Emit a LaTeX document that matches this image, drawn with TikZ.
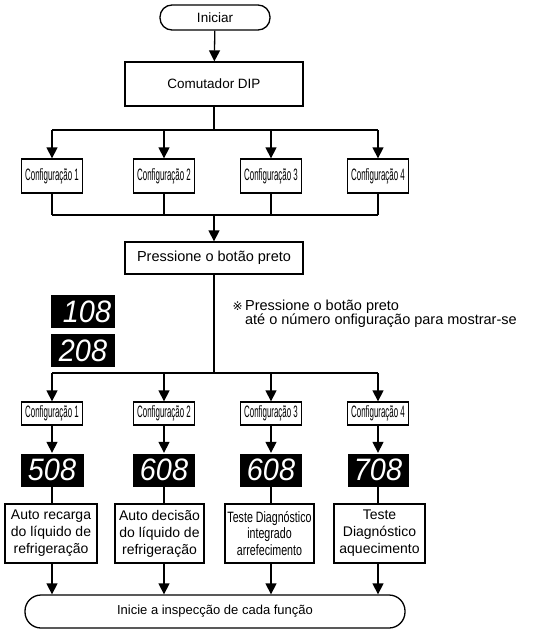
\documentclass[tikz,border=0pt]{standalone}
\usepackage{fontspec}
\setmainfont{Liberation Sans}
\newfontfamily\narrowfont[FakeStretch=0.48]{Liberation Sans}
\newfontfamily\semifont[FakeStretch=0.71]{Liberation Sans}
\newfontfamily\segfont[FakeStretch=0.93]{Liberation Sans}
\newfontfamily\symfont{DejaVu Sans}
\usepackage{tikz}
\usetikzlibrary{arrows.meta, positioning}

\begin{document}
\begin{tikzpicture}[x=1pt, y=-1pt, line width=1.3pt,
		arr/.style={-{Triangle[length=11pt,width=11pt]}},
		box/.style={draw, rectangle, inner sep=0pt, align=center, font=\fontsize{13.5}{16}\selectfont},
		term/.style={box, rounded corners=12pt},
		cfg/.style={draw, rectangle, inner sep=0pt, minimum width=61pt, font=\narrowfont\fontsize{16.5}{18}\selectfont},
		func/.style={draw, rectangle, inner sep=0pt, minimum height=59pt, align=center, font=\fontsize{14}{17}\selectfont},
		seg/.style={fill=black, text=white, inner sep=0pt, minimum height=33pt, font=\segfont\itshape\fontsize{31}{31}\selectfont}]
		\useasboundingbox (0,0) rectangle (558,629);

		\node[term, minimum width=110pt, minimum height=25pt] (start) at (215,17.5) {Iniciar};
		\node[box, minimum width=178pt, minimum height=44pt] (dip) at (214,84) {Comutador DIP};

		\node[cfg, minimum height=34pt] (cfgA1) at (52,176) {Configuração 1};
		\node[cfg, minimum height=34pt] (cfgA2) at (164,176) {Configuração 2};
		\node[cfg, minimum height=34pt] (cfgA3) at (271,176) {Configuração 3};
		\node[cfg, minimum height=34pt] (cfgA4) at (378,176) {Configuração 4};
		\coordinate (busA) at (214,130);
		\coordinate (busB) at (214,215);

		\node[box, minimum width=178pt, minimum height=32pt, font=\fontsize{14.5}{16}\selectfont] (press) at (214,258) {Pressione o botão preto};

		\node[seg, minimum width=64pt] (d108) at (83,311.5) {\hspace{8pt}108};
		\node[seg, minimum width=64pt] (d208) at (83,350.5) {208};
		\node[anchor=base west, align=left, inner sep=0pt, font=\fontsize{14.5}{14}\selectfont] (note) at (232,324)
			{{\symfont\fontsize{12}{12}\selectfont ※}\,Pressione o botão preto\\
			\hphantom{{\symfont\fontsize{12}{12}\selectfont ※}\,}até o número onfiguração para mostrar-se};
		\coordinate (busC) at (214,373);

		\node[cfg, minimum height=23pt] (cfgB1) at (52,413.5) {Configuração 1};
		\node[cfg, minimum height=23pt] (cfgB2) at (164,413.5) {Configuração 2};
		\node[cfg, minimum height=23pt] (cfgB3) at (271,413.5) {Configuração 3};
		\node[cfg, minimum height=23pt] (cfgB4) at (378,413.5) {Configuração 4};

		\node[seg, minimum width=63pt] (d508) at (52,470) {508};
		\node[seg, minimum width=62pt] (d608a) at (164,470) {608};
		\node[seg, minimum width=62pt] (d608b) at (271,470) {608};
		\node[seg, minimum width=61pt] (d708) at (378,470) {708};

		\node[func, minimum width=92pt] (fn1) at (51,533.5) {Auto recarga\\do líquido de\\refrigeração};
		\node[func, minimum width=89pt] (fn2) at (159.5,533.5) {Auto decisão\\do líquido de\\refrigeração};
		\node[func, minimum width=89pt, font=\semifont\fontsize{15}{16.5}\selectfont] (fn3) at (269.5,533.5) {Teste Diagnóstico\\integrado\\arrefecimento};
		\node[func, minimum width=91pt] (fn4) at (379.5,533.5) {Teste\\Diagnóstico\\aquecimento};

		\node[term, minimum width=380pt, minimum height=33pt, rounded corners=16pt, font=\fontsize{13}{16}\selectfont] (finish) at (215,611.5) {Inicie a inspecção de cada função};

		\draw[arr] (start) -- (dip);
		\draw (dip) -- (busA);
		\draw (cfgA1 |- busA) -- (cfgA4 |- busA);
		\draw (cfgA1 |- busB) -- (cfgA4 |- busB);
		\foreach \n in {1,...,4} {
			\draw[arr] (cfgA\n |- busA) -- (cfgA\n);
			\draw (cfgA\n) -- (cfgA\n |- busB);
			\draw[arr] (cfgB\n |- busC) -- (cfgB\n);
		}
		\draw[arr] (busB) -- (press);
		\draw (press) -- (busC);
		\draw (cfgB1 |- busC) -- (cfgB4 |- busC);

		\draw[arr] (cfgB1) -- (d508);
		\draw[arr] (cfgB2) -- (d608a);
		\draw[arr] (cfgB3) -- (d608b);
		\draw[arr] (cfgB4) -- (d708);
		\draw (d508) -- (d508 |- fn1.north);
		\draw (d608a) -- (d608a |- fn2.north);
		\draw (d608b) -- (d608b |- fn3.north);
		\draw (d708) -- (d708 |- fn4.north);
		\draw[arr] (fn1.south -| d508) -- (d508 |- finish.north);
		\draw[arr] (fn2.south -| d608a) -- (d608a |- finish.north);
		\draw[arr] (fn3.south -| d608b) -- (d608b |- finish.north);
		\draw[arr] (fn4.south -| d708) -- (d708 |- finish.north);
	\end{tikzpicture}
\end{document}
